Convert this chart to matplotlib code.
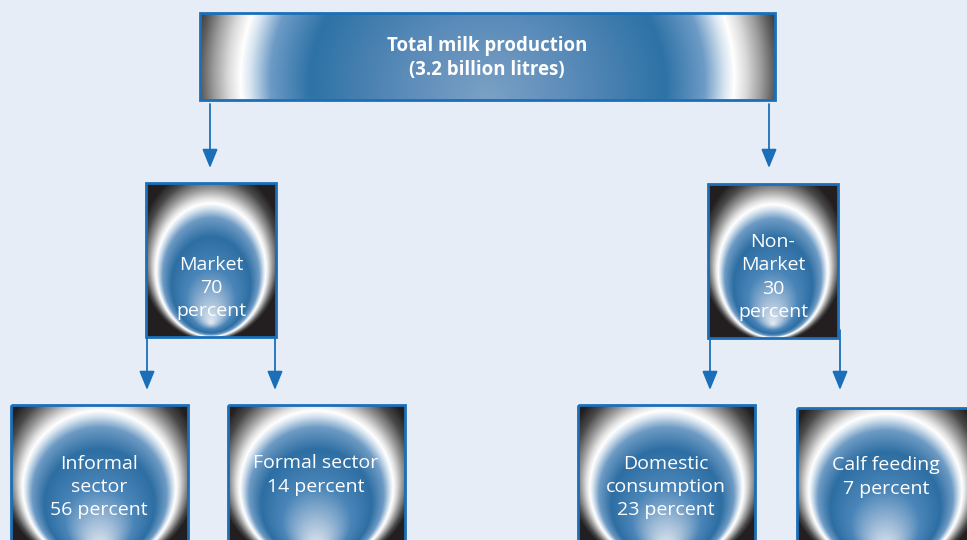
import numpy as np
import matplotlib.pyplot as plt
from matplotlib.patches import Rectangle, FancyArrowPatch

plt.rcParams["font.family"] = ["Open Sans", "DejaVu Sans"]

# --- content -------------------------------------------------------------
root_label = "Total milk production"
root_volume = "3.2 billion litres"
branch_labels = ["Market", "Non-\nMarket"]
branch_shares = [70, 30]
leaf_labels = ["Informal\nsector", "Formal sector", "Domestic\nconsumption", "Calf feeding"]
leaf_shares = [56, 14, 23, 7]

# --- layout (pixel coordinates, y grows downward) -------------------------
W, H = 967, 540
BG = "#E6EDF7"
FRAME = "#1B6FB8"

root_box = (200, 13, 775, 100)
branch_boxes = [(146, 183, 276, 337), (708, 184, 838, 338)]
leaf_boxes = [(11, 405, 188, 582), (228, 405, 405, 582),
              (578, 405, 755, 582), (797, 408, 974, 585)]

root_text_xy = (487, 58)
branch_text_xy = [(211, 288), (773, 277)]
leaf_text_xy = [(99, 487), (316, 475), (666, 487), (886, 477)]

arrows = [(210, 104, 168), (769, 104, 168),
          (147, 338, 390), (275, 338, 390),
          (710, 339, 390), (840, 330, 390)]

# colour stops along the focal-gradient parameter t (t=1 is the white ring)
root_stops = [
    (0.00, "#7CA1C5"), (0.35, "#5A8BB9"), (0.72, "#2E72A6"),
    (0.88, "#6D9BC6"), (0.96, "#D6E4F0"), (1.00, "#FFFFFF"),
    (1.05, "#DADADA"), (1.11, "#9C9C9C"), (1.16, "#5E5E5E"), (1.20, "#353535"),
]
ball_stops = [
    (0.00, "#E2EAF2"), (0.20, "#A2BDD8"), (0.45, "#4A85B8"),
    (0.72, "#2D6EA3"), (0.88, "#6E9BC4"), (0.96, "#D6E3EF"), (1.00, "#FFFFFF"),
    (1.04, "#E4E4E4"), (1.12, "#9A9A9A"), (1.22, "#4A4A4A"), (1.32, "#231F20"),
]


def hex_rgb(c):
    c = c.lstrip("#")
    return [int(c[i:i + 2], 16) / 255 for i in (0, 2, 4)]


def focal_gradient(w, h, a, b, cy, fy, stops):
    u = np.linspace(-1, 1, w)
    v = np.linspace(-1, 1, h)
    U, V = np.meshgrid(u, v)
    px = U / a
    py = (V - cy) / b
    dx, dy = px, py - fy
    A = dx * dx + dy * dy
    B = 2 * fy * dy
    C = fy * fy - 1
    A = np.where(A == 0, 1e-12, A)
    s = (-B + np.sqrt(B * B - 4 * A * C)) / (2 * A)
    t = 1 / s
    pos = [p for p, _ in stops]
    cols = np.array([hex_rgb(c) for _, c in stops])
    img = np.stack([np.interp(t, pos, cols[:, k]) for k in range(3)], axis=-1)
    return img


def draw_box(ax, box, a, b, cy, fy, stops):
    x0, y0, x1, y1 = box
    img = focal_gradient(int(x1 - x0), int(y1 - y0), a, b, cy, fy, stops)
    ax.imshow(img, extent=(x0, x1, y1, y0), interpolation="bilinear", zorder=1)
    ax.add_patch(Rectangle((x0, y0), x1 - x0, y1 - y0, fill=False,
                           edgecolor=FRAME, linewidth=2, zorder=3))


fig = plt.figure(figsize=(9.67, 5.4), dpi=100)
fig.patch.set_facecolor(BG)
ax = fig.add_axes([0, 0, 1, 1])
ax.set_facecolor(BG)
ax.set_xlim(0, W)
ax.set_ylim(H, 0)
ax.axis("off")

# root
draw_box(ax, root_box, a=0.86, b=5.0, cy=0.5, fy=0.1, stops=root_stops)
ax.text(*root_text_xy, f"{root_label}\n({root_volume})", color="white",
        fontsize=13.4, fontweight="bold", ha="center", va="center",
        linespacing=1.3, zorder=4)

# branches
for box, (tx, ty), label, share in zip(branch_boxes, branch_text_xy,
                                        branch_labels, branch_shares):
    draw_box(ax, box, a=0.85, b=0.87, cy=0.13, fy=0.8, stops=ball_stops)
    ax.text(tx, ty, f"{label}\n{share}\npercent", color="white", fontsize=14,
            ha="center", va="center", linespacing=1.38, zorder=4)

# leaves
for box, (tx, ty), label, share in zip(leaf_boxes, leaf_text_xy,
                                        leaf_labels, leaf_shares):
    draw_box(ax, box, a=0.87, b=0.87, cy=-0.07, fy=0.8, stops=ball_stops)
    ax.text(tx, ty, f"{label}\n{share} percent", color="white", fontsize=14,
            ha="center", va="center", linespacing=1.38, zorder=4)

for x, ya, yb in arrows:
    ax.add_patch(FancyArrowPatch((x, ya), (x, yb),
                                 arrowstyle="-|>,head_length=1.15,head_width=0.47",
                                 mutation_scale=10, color=FRAME, linewidth=1.3,
                                 shrinkA=0, shrinkB=0, zorder=2))

fig.savefig("out.png", dpi=100, facecolor=BG)
plt.close(fig)
